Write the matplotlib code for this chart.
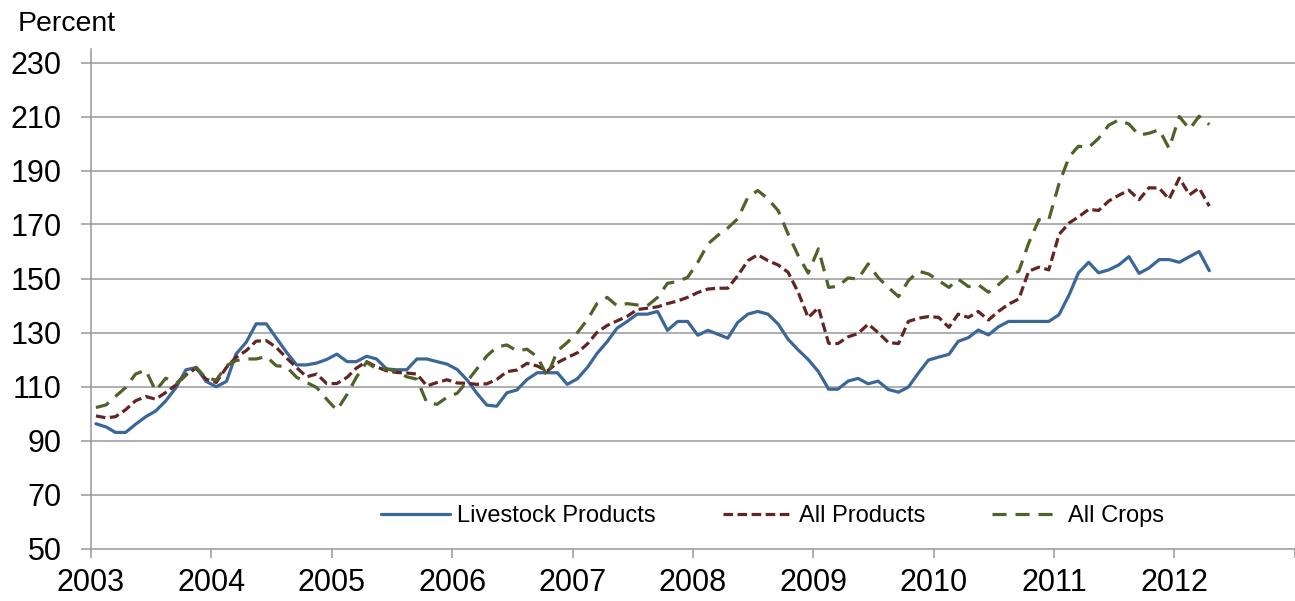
import numpy as np
import pandas as pd
import matplotlib
matplotlib.use("Agg")
import matplotlib.pyplot as plt
import matplotlib.dates as mdates

plt.rcParams['font.family'] = ['Liberation Sans', 'DejaVu Sans']

# monthly index values, Jan 2003 - Apr 2012
livestock = [96.2, 95, 93, 93, 96, 98.8, 100.9, 104.7, 109.6, 116.2, 117, 111.9,
             109.9, 111.9, 122, 126.4, 133.2, 133.2, 128, 122.7, 118, 118, 118.7, 120,
             122, 119.2, 119.2, 121.2, 120.2, 116.5, 116.2, 116.2, 120.2, 120.2, 119.2, 118.3,
             116.3, 112.3, 107.6, 103.1, 102.7, 107.7, 108.7, 112.6, 115.1, 115.1, 115.1, 110.8,
             112.9, 117.2, 122.2, 126.6, 131.6, 134.1, 136.8, 136.8, 137.8, 130.8, 134.1, 134.1,
             129, 130.8, 129.4, 127.9, 133.7, 136.8, 137.8, 136.8, 133.1, 127.5, 123.5, 120,
             115.5, 109, 109, 112, 113, 111, 112, 108.9, 107.9, 109.8, 115.1, 119.8,
             120.9, 121.9, 126.7, 128.1, 130.9, 129.1, 132.1, 134.1, 134.1, 134.1, 134.1, 134.1,
             136.6, 144, 152.1, 156, 152.1, 153.2, 155, 158.1, 151.9, 153.9, 157, 157,
             156, 158.1, 160, 152.9]

all_products = [99.1, 98.4, 98.8, 101.4, 104.7, 106.3, 105.3, 107.8, 110.6, 114.3, 116.8, 112.7,
                111.5, 117.1, 120.8, 123.3, 126.8, 127, 124.5, 120.6, 117, 113.6, 114.6, 111.1,
                111.1, 113.4, 116.8, 119.2, 117.3, 115.8, 115.2, 115, 114.6, 110.2, 111.5, 112.5,
                111.3, 111.2, 110.8, 111, 112.6, 115.5, 116.1, 118.6, 117.6, 115.7, 118.8, 120.7,
                122.5, 125.9, 130, 132.6, 134.3, 136, 138.5, 139, 139.5, 140.7, 141.7, 143,
                144.8, 146.1, 146.4, 146.4, 151, 156.6, 158.8, 156.6, 155, 152.3, 144.8, 135.5,
                139.2, 126, 125.9, 128.4, 129.6, 133.1, 130, 126.3, 125.9, 134.1, 135.3, 135.9,
                135.6, 131.9, 136.8, 135.6, 137.8, 134.6, 137.8, 140.5, 142.4, 152.7, 154.2, 153.2,
                166.3, 170.6, 172.8, 175.6, 175.2, 178.7, 180.8, 182.7, 179.2, 183.6, 183.5, 179.4,
                187.2, 181, 183.5, 176.8]

all_crops = [102.2, 103.2, 106.3, 109.6, 114.6, 116.1, 108.4, 113.1, 111.1, 114.3, 117.1, 113.1,
             112.4, 117.7, 119.6, 120.2, 120.2, 121.1, 117.7, 117.3, 113.4, 111.5, 109.6, 105.3,
             101.2, 107.1, 113.4, 119, 116.5, 116.5, 115.6, 113.6, 112.7, 104, 103.4, 106,
             107.5, 112, 116.4, 121.3, 124.6, 125.4, 123.2, 123.8, 121, 113.9, 123.2, 126.3,
             130, 134.9, 140.7, 143, 139.9, 140.7, 140.2, 139.9, 143, 148.2, 148.9, 150.4,
             156, 162.8, 165.9, 168.7, 172.1, 180.1, 182.6, 179.5, 175.1, 166.5, 158.4, 152,
             161, 146.7, 147.1, 150.2, 149.8, 155.4, 150.4, 146.7, 143.3, 149.2, 152.7, 151.7,
             149.2, 146.7, 149.8, 147, 147.7, 144.9, 147.7, 151.1, 152.7, 163.1, 171.8, 171.8,
             185.1, 195.1, 199, 198.5, 201.9, 206.8, 208.7, 207.2, 203.1, 203.8, 205.1, 198.2,
             210, 205.3, 210.1, 207]

years = list(range(2003, 2014))
year_labels = [str(y) for y in years[:-1]] + ['']
y_ticks = list(range(50, 231, 20))

months = pd.date_range('2003-01-01', periods=len(livestock), freq='MS') + pd.Timedelta(days=15)

grid_col = '#989898'

fig = plt.figure(figsize=(12.95, 6.01), dpi=100)
ax = fig.add_axes([91 / 1295, 1 - 548.5 / 601, 1204 / 1295, 499.5 / 601])

ax.plot(months, livestock, color='#3A6799', lw=2.3, solid_capstyle='round',
        label='Livestock Products', zorder=3)
ax.plot(months, all_products, color='#632523', lw=2.3, linestyle=(0, (3.0, 1.4)),
        label='All Products', zorder=3)
ax.plot(months, all_crops, color='#4F6228', lw=2.3, linestyle=(0, (4.4, 2.8)),
        label='All Crops', zorder=3)

ax.set_xlim(pd.Timestamp('2003-01-01'), pd.Timestamp('2013-01-01'))
ax.set_ylim(50, 235)
ax.set_yticks(y_ticks)
ax.set_xticks([pd.Timestamp(f'{y}-01-01') for y in years])
ax.set_xticklabels(year_labels)

for y in y_ticks:
    ax.axhline(y, color=grid_col, lw=1.1, zorder=1, clip_on=False)

for s in ['top', 'right', 'bottom']:
    ax.spines[s].set_visible(False)
ax.spines['left'].set_color(grid_col)
ax.spines['left'].set_linewidth(1.1)

ax.tick_params(axis='y', direction='out', length=7.2, width=1.1, color=grid_col,
               labelsize=22, pad=14)
ax.tick_params(axis='x', direction='out', length=6.2, width=1.1, color=grid_col,
               labelsize=22, pad=7.5)

ax.legend(loc='center left', bbox_to_anchor=((369 - 91) / 1204, (548.5 - 516) / 499.5),
          ncol=3, frameon=False, fontsize=17, borderpad=0, handlelength=2.92,
          handletextpad=0.3, columnspacing=2.84)

fig.text(18 / 1295, 1 - 31 / 601, 'Percent', fontsize=20.5, va='baseline', ha='left')

fig.savefig('out.png', dpi=100)
